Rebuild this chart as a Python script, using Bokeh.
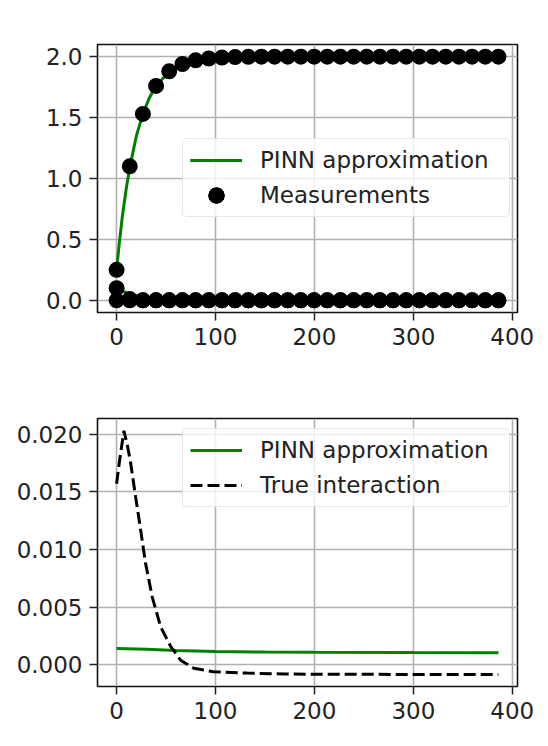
from bokeh.plotting import figure
from bokeh.layouts import column
from bokeh.models import Range1d, FixedTicker, PrintfTickFormatter, Legend, LegendItem
from bokeh.embed import file_html
from bokeh.resources import INLINE

# ---- measurement times (shared by all observed species) ----
t_meas = [0.0, 13.3, 26.6, 39.9, 53.2, 66.6, 79.9, 93.2, 106.5, 119.8,
          133.1, 146.4, 159.7, 173.0, 186.3, 199.7, 213.0, 226.3, 239.6, 252.9,
          266.2, 279.5, 292.8, 306.1, 319.4, 332.8, 346.1, 359.4, 372.7, 386.0]

# observed states
growth_meas = [0.25, 1.10, 1.53, 1.76, 1.88, 1.94, 1.97, 1.985, 1.993, 1.997,
               1.999, 2.0, 2.0, 2.0, 2.0, 2.0, 2.0, 2.0, 2.0, 2.0,
               2.0, 2.0, 2.0, 2.0, 2.0, 2.0, 2.0, 2.0, 2.0, 2.0]
decay_meas = [0.10, 0.01, 0.0, 0.0, 0.0, 0.0, 0.0, 0.0, 0.0, 0.0,
              0.0, 0.0, 0.0, 0.0, 0.0, 0.0, 0.0, 0.0, 0.0, 0.0,
              0.0, 0.0, 0.0, 0.0, 0.0, 0.0, 0.0, 0.0, 0.0, 0.0]
rest_meas = [0.0, 0.0, 0.0, 0.0, 0.0, 0.0, 0.0, 0.0, 0.0, 0.0,
             0.0, 0.0, 0.0, 0.0, 0.0, 0.0, 0.0, 0.0, 0.0, 0.0,
             0.0, 0.0, 0.0, 0.0, 0.0, 0.0, 0.0, 0.0, 0.0, 0.0]

# ---- PINN state approximations ----
t_fit = [0, 3, 6, 10, 13.3, 20, 26.6, 33, 40, 50, 60, 70, 80, 100, 120, 150,
         200, 250, 300, 350, 386]
growth_fit = [0.25, 0.49, 0.70, 0.93, 1.09, 1.35, 1.53, 1.66, 1.76, 1.85, 1.91,
              1.94, 1.965, 1.987, 1.995, 1.999, 2.0, 2.0, 2.0, 2.0, 2.0]
decay_fit = [0.10, 0.087, 0.075, 0.062, 0.052, 0.038, 0.027, 0.020, 0.014, 0.008,
             0.005, 0.003, 0.002, 0.001, 0.0, 0.0, 0.0, 0.0, 0.0, 0.0, 0.0]

# ---- interaction term ----
t_inter_true = [0, 3, 7.4, 11, 14.2, 19.2, 24.3, 29.3, 36, 44.5, 54.6, 64.7,
                78, 98, 132, 170, 220, 280, 340, 386]
inter_true = [0.0157, 0.0177, 0.0203, 0.0190, 0.0175, 0.0146, 0.0117, 0.0088,
              0.0059, 0.0033, 0.0016, 0.0004, -0.0003, -0.0006, -0.00072,
              -0.0008, -0.00082, -0.00083, -0.00083, -0.00083]
t_inter_fit = [0, 30, 60, 100, 150, 200, 300, 386]
inter_fit = [0.00142, 0.00136, 0.00125, 0.00116, 0.00111, 0.00108, 0.00106, 0.00105]

x_ticks = [0, 100, 200, 300, 400]
y_ticks_top = [0.0, 0.5, 1.0, 1.5, 2.0]
y_ticks_bottom = [0.0, 0.005, 0.010, 0.015, 0.020]

FONT = "DejaVu Sans"
FS = "23px"
GREEN = "#008000"
INK = "#222222"


def base_figure(y_range, y_ticks, y_fmt, top_border):
    p = figure(width=548, height=373, output_backend="svg", toolbar_location=None,
               x_range=Range1d(-19.3, 405.3), y_range=y_range,
               min_border_left=97, min_border_right=31,
               min_border_top=top_border, min_border_bottom=373 - top_border - 268)
    p.background_fill_color = "white"
    p.border_fill_color = "white"
    p.outline_line_color = "#111111"
    p.outline_line_width = 1.6
    for ax in (p.xaxis[0], p.yaxis[0]):
        ax.axis_line_color = None
        ax.major_tick_line_color = INK
        ax.major_tick_line_width = 1.5
        ax.major_tick_out = 8
        ax.major_tick_in = 0
        ax.minor_tick_line_color = None
        ax.major_label_text_font = FONT
        ax.major_label_text_font_size = FS
        ax.major_label_text_color = INK
        ax.major_label_standoff = 7
    p.xaxis[0].ticker = FixedTicker(ticks=x_ticks)
    p.yaxis[0].ticker = FixedTicker(ticks=y_ticks)
    p.yaxis[0].formatter = PrintfTickFormatter(format=y_fmt)
    p.xaxis[0].formatter = PrintfTickFormatter(format="%d")
    p.xgrid.ticker = FixedTicker(ticks=x_ticks)
    p.ygrid.ticker = FixedTicker(ticks=y_ticks)
    for g in (p.xgrid[0], p.ygrid[0]):
        g.grid_line_color = "#b0b0b0"
        g.grid_line_width = 1.6
    return p


def style_legend(leg, loc):
    leg.location = loc
    leg.label_text_font = FONT
    leg.label_text_font_size = FS
    leg.label_text_color = INK
    leg.glyph_width = 52
    leg.glyph_height = 28
    leg.label_standoff = 18
    leg.label_width = 242
    leg.spacing = 7
    leg.padding = 7
    leg.margin = 0
    leg.border_line_color = "#cfcfcf"
    leg.border_line_width = 1.5
    leg.background_fill_color = "white"
    leg.background_fill_alpha = 0.8
    if "border_radius" in leg.properties():
        leg.border_radius = 5


# ---- states vs. measurements ----
p1 = base_figure(Range1d(-0.1, 2.1), y_ticks_top, "%.1f", 44)
g1 = p1.line(t_fit, growth_fit, line_color=GREEN, line_width=3)
g2 = p1.line(t_fit, decay_fit, line_color=GREEN, line_width=3)
dot = dict(size=11, marker="circle", fill_color="black", line_color="black", line_width=5)
m1 = p1.scatter(t_meas, growth_meas, **dot)
m2 = p1.scatter(t_meas, decay_meas, **dot)
m3 = p1.scatter(t_meas, rest_meas, **dot)
leg1 = Legend(items=[LegendItem(label="PINN approximation", renderers=[g1, g2]),
                     LegendItem(label="Measurements", renderers=[m1, m2, m3])])
style_legend(leg1, (85, 95))
p1.add_layout(leg1)

# ---- learned vs. true interaction ----
p2 = base_figure(Range1d(-0.00188, 0.02136), y_ticks_bottom, "%.3f", 45)
f1 = p2.line(t_inter_fit, inter_fit, line_color=GREEN, line_width=3)
d1 = p2.line(t_inter_true, inter_true, line_color="black", line_width=3, line_dash="12 5")
leg2 = Legend(items=[LegendItem(label="PINN approximation", renderers=[f1]),
                     LegendItem(label="True interaction", renderers=[d1])])
style_legend(leg2, (85, 179))
p2.add_layout(leg2)

layout = column(p1, p2, spacing=0)
open("out.html", "w").write(file_html(layout, INLINE))
